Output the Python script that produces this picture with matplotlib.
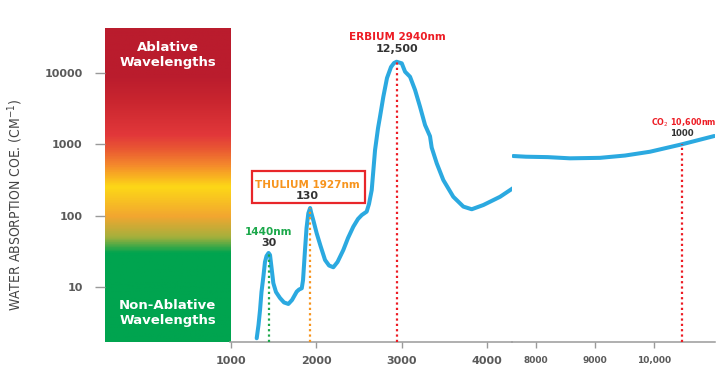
import numpy as np
import matplotlib.pyplot as plt
from matplotlib.colors import LinearSegmentedColormap
from matplotlib.patches import Rectangle

# water absorption curve (nm, 1/cm)
wl_short = [1301, 1322, 1340, 1357, 1379, 1398, 1416, 1440, 1457, 1475,
            1496, 1527, 1574, 1621, 1672, 1715, 1770, 1797, 1829, 1844,
            1867, 1885, 1906, 1927, 1938, 1967, 2004, 2049, 2102, 2149,
            2199, 2248, 2316, 2371, 2433, 2488, 2532, 2590, 2617, 2649,
            2688, 2723, 2746, 2785, 2828, 2875, 2910, 2940, 3001, 3040,
            3098, 3157, 3215, 3274, 3332, 3352, 3411, 3488, 3605, 3723,
            3821, 3957, 4153, 4302]
abs_short = [1.91, 2.93, 4.75, 8.5, 13.9, 22.4, 27.2, 30, 28.1, 18.5,
             11.3, 8.5, 7.0, 6.07, 5.78, 6.57, 8.6, 9.2, 9.6, 12.5,
             33, 67, 108, 128, 112, 84, 56.6, 37.6, 23.9, 20,
             18.9, 22.4, 33, 48.6, 70, 89.8, 102, 114, 146, 229,
             832, 1694, 2440, 4650, 8510, 12140, 13800, 14400, 13680, 10430,
             8870, 5780, 3370, 1866, 1300, 900, 542, 316, 184, 134,
             123, 141, 184, 242]
wl_long = [7615, 7830, 8200, 8576, 9085, 9509, 9932, 10470, 11022]
abs_long = [686, 671, 662, 637, 647, 697, 788, 1000, 1309]

# laser wavelengths (dotted markers)
laser_wl = [1440, 1927, 2940, 10470]
laser_abs = [30, 130, 14400, 1000]
laser_colors = ["#1ba84a", "#f7941d", "#ed1c24", "#ed1c24"]
laser_names = ["1440nm", "THULIUM 1927nm", "ERBIUM 2940nm", "CO$_2$ 10,600nm"]
laser_values = ["30", "130", "12,500", "1000"]
name_xy = [(1440, 59), (1897, 269), (2951, 31600), (10509, 2010)]
value_xy = [(1440, 41.4), (1897, 190), (2951, 21500), (10470, 1428)]

yticks = [10, 100, 1000, 10000]
yticklabels = ["10", "100", "1000", "10000"]
xticks_short = [1000, 2000, 3000, 4000]
xticklabels_short = ["1000", "2000", "3000", "4000"]
xticks_long = [8000, 9000, 10000]
xticklabels_long = ["8000", "9000", "10,000"]

YMIN, YMAX = 1.72, 42400
CURVE = "#2ba9e0"
AXGRAY = "#9a9a9a"
TXTGRAY = "#5a5a5a"

W, H = 726, 386
fig = plt.figure(figsize=(W / 100, H / 100), dpi=100)


def px_rect(x0, x1, y_top, y_bot):
    return [x0 / W, 1 - y_bot / H, (x1 - x0) / W, (y_bot - y_top) / H]


# gradient panel
grad_rect = px_rect(105, 230, 28.3, 341.7)
ax_img = fig.add_axes(grad_rect)
cmap = LinearSegmentedColormap.from_list("abl", [
    (0.0, "#00a44f"), (0.283, "#00a44f"), (0.334, "#a6b03c"),
    (0.40, "#f2a630"), (0.494, "#fdd817"), (0.564, "#f4892c"),
    (0.612, "#ea5a32"), (0.66, "#e2383a"), (0.77, "#c9252f"),
    (0.85, "#ba1c2d"), (1.0, "#ba1c2d")])
ax_img.imshow(np.linspace(0, 1, 400).reshape(-1, 1), cmap=cmap, origin="lower",
              aspect="auto", extent=(0, 1, 0, 1))
ax_img.axis("off")
ax_img.text(0.5, 0.916, "Ablative\nWavelengths", color="white", fontsize=9.5,
            fontweight="bold", ha="center", va="center", linespacing=1.2,
            transform=ax_img.transAxes)
ax_img.text(0.5, 0.090, "Non-Ablative\nWavelengths", color="white", fontsize=9.5,
            fontweight="bold", ha="center", va="center", linespacing=1.2,
            transform=ax_img.transAxes)

ax_y = fig.add_axes(grad_rect, facecolor="none")
ax_y.set_yscale("log")
ax_y.set_ylim(YMIN, YMAX)
ax_y.set_yticks(yticks)
ax_y.set_yticklabels(yticklabels)
ax_y.minorticks_off()
ax_y.set_xticks([])
for s in ax_y.spines.values():
    s.set_visible(False)
ax_y.tick_params(axis="y", length=7, width=1, color=AXGRAY, pad=9,
                 labelsize=8, labelcolor=TXTGRAY)
for lab in ax_y.get_yticklabels():
    lab.set_fontweight("bold")
fig.text(15 / W, 1 - 205 / H, "WATER ABSORPTION COE. (CM$^{\\mathregular{-1}}$)",
         rotation=90, ha="center", va="center", fontsize=10, color="#444444",
         fontstretch="condensed",
         family=["Liberation Sans Narrow", "DejaVu Sans"])

# broken x axis: two panels
ax1 = fig.add_axes(px_rect(230, 512, 28.3, 341.5), facecolor="none")
ax2 = fig.add_axes(px_rect(512, 715, 28.3, 341.5), facecolor="none")
ax1.set_xlim(988, 4293)
ax2.set_xlim(7593, 11034)
for ax, ticks, labels, fs in [(ax1, xticks_short, xticklabels_short, 8),
                              (ax2, xticks_long, xticklabels_long, 6.5)]:
    ax.set_yscale("log")
    ax.set_ylim(YMIN, YMAX)
    ax.set_yticks([])
    ax.minorticks_off()
    for side in ["top", "right", "left"]:
        ax.spines[side].set_visible(False)
    ax.spines["bottom"].set_color(AXGRAY)
    ax.spines["bottom"].set_linewidth(1.1)
    ax.set_xticks(ticks)
    ax.set_xticklabels(labels)
    ax.tick_params(axis="x", length=4.5, width=1, color=AXGRAY, pad=6,
                   labelsize=fs, labelcolor=TXTGRAY)
    for lab in ax.get_xticklabels():
        lab.set_fontweight("bold")

ax1.plot(wl_short, abs_short, color=CURVE, lw=2.9, solid_capstyle="round",
         solid_joinstyle="round", zorder=3)
ax2.plot(wl_long, abs_long, color=CURVE, lw=2.9, solid_capstyle="round",
         solid_joinstyle="round", zorder=3)

for i, (wl, a, c) in enumerate(zip(laser_wl, laser_abs, laser_colors)):
    ax = ax2 if wl > 5000 else ax1
    ax.vlines(wl, YMIN, a, colors=c, lw=1.6, linestyles=(0, (1, 1.4)), zorder=4)
    small = wl > 5000
    ax.text(*name_xy[i], laser_names[i], color=c, fontsize=5.8 if small else 7.5,
            fontweight="bold", ha="center", va="center", zorder=6)
    ax.text(*value_xy[i], laser_values[i], color="#333333",
            fontsize=6.2 if small else 8, fontweight="bold", ha="center",
            va="center", zorder=6)

# highlighted Thulium box
ax1.add_patch(Rectangle((1243, 149), 2570 - 1243, 427 - 149, facecolor="white",
                        edgecolor="#e8262a", lw=1.6, zorder=5))

fig.savefig("out.png", dpi=100)
